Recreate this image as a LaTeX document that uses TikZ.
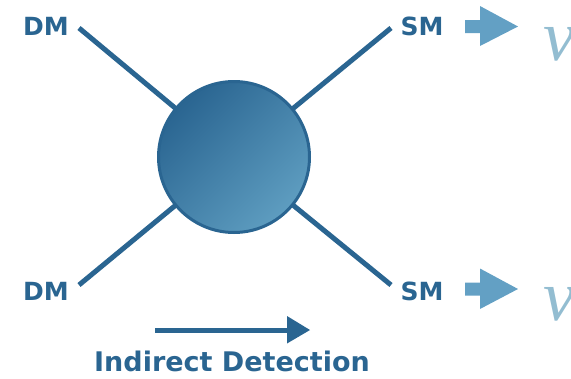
\documentclass[tikz,border=0pt]{standalone}
\usepackage{fontspec}
\setmainfont{DejaVu Sans}
\newfontfamily\nufont{Liberation Serif}
\definecolor{dkblue}{HTML}{2A6591}
\definecolor{ltblue}{HTML}{5E9DC0}
\definecolor{arrblue}{HTML}{63A0C4}
\definecolor{nublue}{HTML}{93BDD1}
\begin{document}
\begin{tikzpicture}[x=1pt,y=-1pt,
  lbl/.style={inner sep=0pt,text=dkblue,font=\fontsize{25}{25}\selectfont\bfseries},
  leg/.style={line width=5pt,draw=dkblue},
  blockarr/.style={fill=arrblue,draw=none},
  nulbl/.style={inner sep=0pt,text=nublue,font=\nufont\fontsize{72}{72}\selectfont\itshape}]
\useasboundingbox (0,0) rectangle (571,378);
% line ends
\coordinate (a1) at (79,28);
\coordinate (a2) at (79,285);
\coordinate (a3) at (391,28);
\coordinate (a4) at (391,285);
\node[circle,minimum size=151pt,inner sep=0pt] (c) at (234,157) {};
\draw[leg] (a1) -- (c.center);
\draw[leg] (a2) -- (c.center);
\draw[leg] (a3) -- (c.center);
\draw[leg] (a4) -- (c.center);
\shade[top color=dkblue,bottom color=ltblue,shading angle=45,draw=dkblue,line width=3pt]
  (c.center) circle[radius=75.5pt];
% labels
\node[lbl,anchor=base] (dm1) at (46,35) {DM};
\node[lbl,anchor=base] (dm2) at (46,300) {DM};
\node[lbl,anchor=base] (sm1) at (422,35) {SM};
\node[lbl,anchor=base] (sm2) at (422,300) {SM};
% block arrows
\fill[blockarr] (465,20) -- (480,20) -- (480,6) -- (518,26.5) -- (480,46) -- (480,33) -- (465,33) -- cycle;
\fill[blockarr] (465,282.5) -- (480,282.5) -- (480,268.5) -- (518,289) -- (480,309) -- (480,295.5) -- (465,295.5) -- cycle;
% nu
\node[nulbl,anchor=base west] (nu1) at (543,60) {ν};
\node[nulbl,anchor=base west] (nu2) at (543,320) {ν};
% indirect detection arrow
\coordinate (d1) at (155,330);
\coordinate (d2) at (310,330);
\draw[line width=5pt,draw=dkblue] (d1) -- (288,330);
\fill[dkblue] (287,316) -- (d2) -- (287,343.5) -- cycle;
\node[lbl,anchor=base,font=\fontsize{27}{27}\selectfont\bfseries] (id) at (232,371) {Indirect Detection};
\end{tikzpicture}
\end{document}
